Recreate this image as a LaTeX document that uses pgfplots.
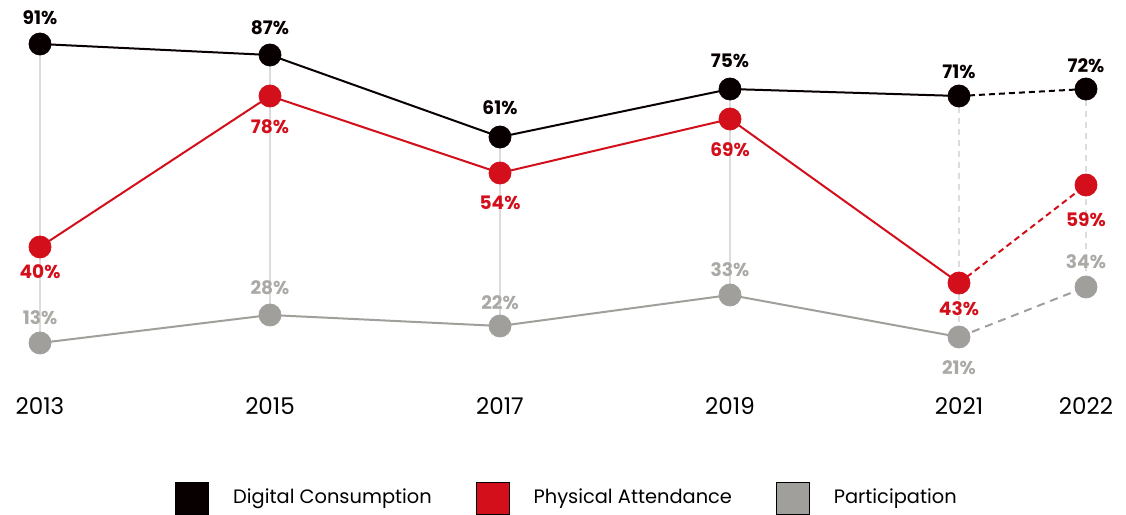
\documentclass[border=0pt]{standalone}
\usepackage{pgfplots}
\pgfplotsset{compat=1.18}
\usepackage{pgfplotstable}
\usepackage{fontspec}
\setmainfont{Poppins}
\definecolor{cblack}{HTML}{080000}
\definecolor{cred}{HTML}{D30F1B}
\definecolor{cgray}{HTML}{A09F9B}
\definecolor{cgraytxt}{HTML}{ABA9A5}
\definecolor{cgrid}{HTML}{DCDCDC}
\newcommand{\lblfont}{\fontsize{9.3}{10}\selectfont\bfseries}
\newcommand{\yrfont}{\fontsize{11.5}{13}\selectfont}
\pgfplotsset{lbl/.style={only marks, mark=*, mark size=5.5pt, forget plot,
  point meta=explicit symbolic,
  visualization depends on={\thisrow{off} \as \off},
  nodes near coords={\pgfplotspointmeta\%},
  nodes near coords style={anchor=center, yshift=\off pt, font=\lblfont, text=#1}}}
% x = horizontal position, h = plotted height (as drawn), lab = value in %, off = label offset (pt)
\pgfplotstableread{
x h lab off
40 470 91 13
270 459 87 13.5
500 377 61 14.5
730 425 75 14
959 418 71 12
1086 425 72 11.5
}\digital
\pgfplotstableread{
x h lab off
40 267 40 -12.5
270 418 78 -15.5
500 341 54 -15
730 395 69 -15.5
959 231 43 -13
1086 329 59 -17.5
}\physical
\pgfplotstableread{
x h lab off
40 171 13 12.5
270 199 28 13.5
500 188 22 11.5
730 219 33 12.5
959 177 21 -15.5
1086 227 34 12.5
}\particip
\begin{document}
\begin{tikzpicture}
\begin{axis}[
  scale only axis, width=563pt, height=257pt,
  xmin=0, xmax=1126, ymin=0, ymax=514,
  hide axis, clip=false,
  legend style={at={(axis cs:175,16)}, anchor=west, draw=none, fill=none,
    inner sep=0pt, font=\fontsize{9.7}{12}\selectfont,
    nodes={inner sep=0pt, anchor=west},
    /tikz/every odd column/.append style={column sep=12pt},
    /tikz/every even column/.append style={column sep=22pt}},
  legend columns=3,
  legend image code/.code={\fill[#1] (0pt,-8pt) rectangle (16.5pt,8pt);},
]
\path (axis cs:0,0) rectangle (axis cs:1126,514);
% vertical guides
\addplot[cgrid, line width=0.75pt, forget plot] coordinates {(40,470) (40,171)};
\addplot[cgrid, line width=0.75pt, forget plot] coordinates {(270,459) (270,199)};
\addplot[cgrid, line width=0.75pt, forget plot] coordinates {(500,377) (500,188)};
\addplot[cgrid, line width=0.75pt, forget plot] coordinates {(730,425) (730,219)};
\addplot[cgrid, line width=0.6pt, dash pattern=on 3pt off 2.5pt, forget plot] coordinates {(959,418) (959,177)};
\addplot[cgrid, line width=0.6pt, dash pattern=on 3pt off 2.5pt, forget plot] coordinates {(1086,425) (1086,227)};
% lines
\addplot[cgray, line width=1pt, no marks, forget plot, skip coords between index={5}{6}] table[x=x,y=h] {\particip};
\addplot[cgray, line width=1pt, no marks, forget plot, dash pattern=on 4pt off 3pt, skip coords between index={0}{4}] table[x=x,y=h] {\particip};
\addplot[cred, line width=1pt, no marks, forget plot, skip coords between index={5}{6}] table[x=x,y=h] {\physical};
\addplot[cred, line width=1pt, no marks, forget plot, dash pattern=on 3pt off 2pt, skip coords between index={0}{4}] table[x=x,y=h] {\physical};
\addplot[cblack, line width=1pt, no marks, forget plot, skip coords between index={5}{6}] table[x=x,y=h] {\digital};
\addplot[cblack, line width=1pt, no marks, forget plot, dash pattern=on 3pt off 2pt, skip coords between index={0}{4}] table[x=x,y=h] {\digital};
% markers + labels
\addplot[lbl=cgraytxt, color=cgray, mark options={fill=cgray, draw=cgray}] table[x=x,y=h,meta=lab] {\particip};
\addplot[lbl=cred, color=cred, mark options={fill=cred, draw=cred}] table[x=x,y=h,meta=lab] {\physical};
\addplot[lbl=cblack, color=cblack, mark options={fill=cblack, draw=cblack}] table[x=x,y=h,meta=lab] {\digital};
% year labels
\node[font=\yrfont] at (axis cs:40,108) {2013};
\node[font=\yrfont] at (axis cs:270,108) {2015};
\node[font=\yrfont] at (axis cs:500,108) {2017};
\node[font=\yrfont] at (axis cs:730,108) {2019};
\node[font=\yrfont] at (axis cs:959,108) {2021};
\node[font=\yrfont] at (axis cs:1086,108) {2022};
\addlegendimage{fill=cblack}
\addlegendentry{Digital Consumption}
\addlegendimage{fill=cred}
\addlegendentry{Physical Attendance}
\addlegendimage{fill=cgray}
\addlegendentry{Participation}
\end{axis}
\end{tikzpicture}
\end{document}
